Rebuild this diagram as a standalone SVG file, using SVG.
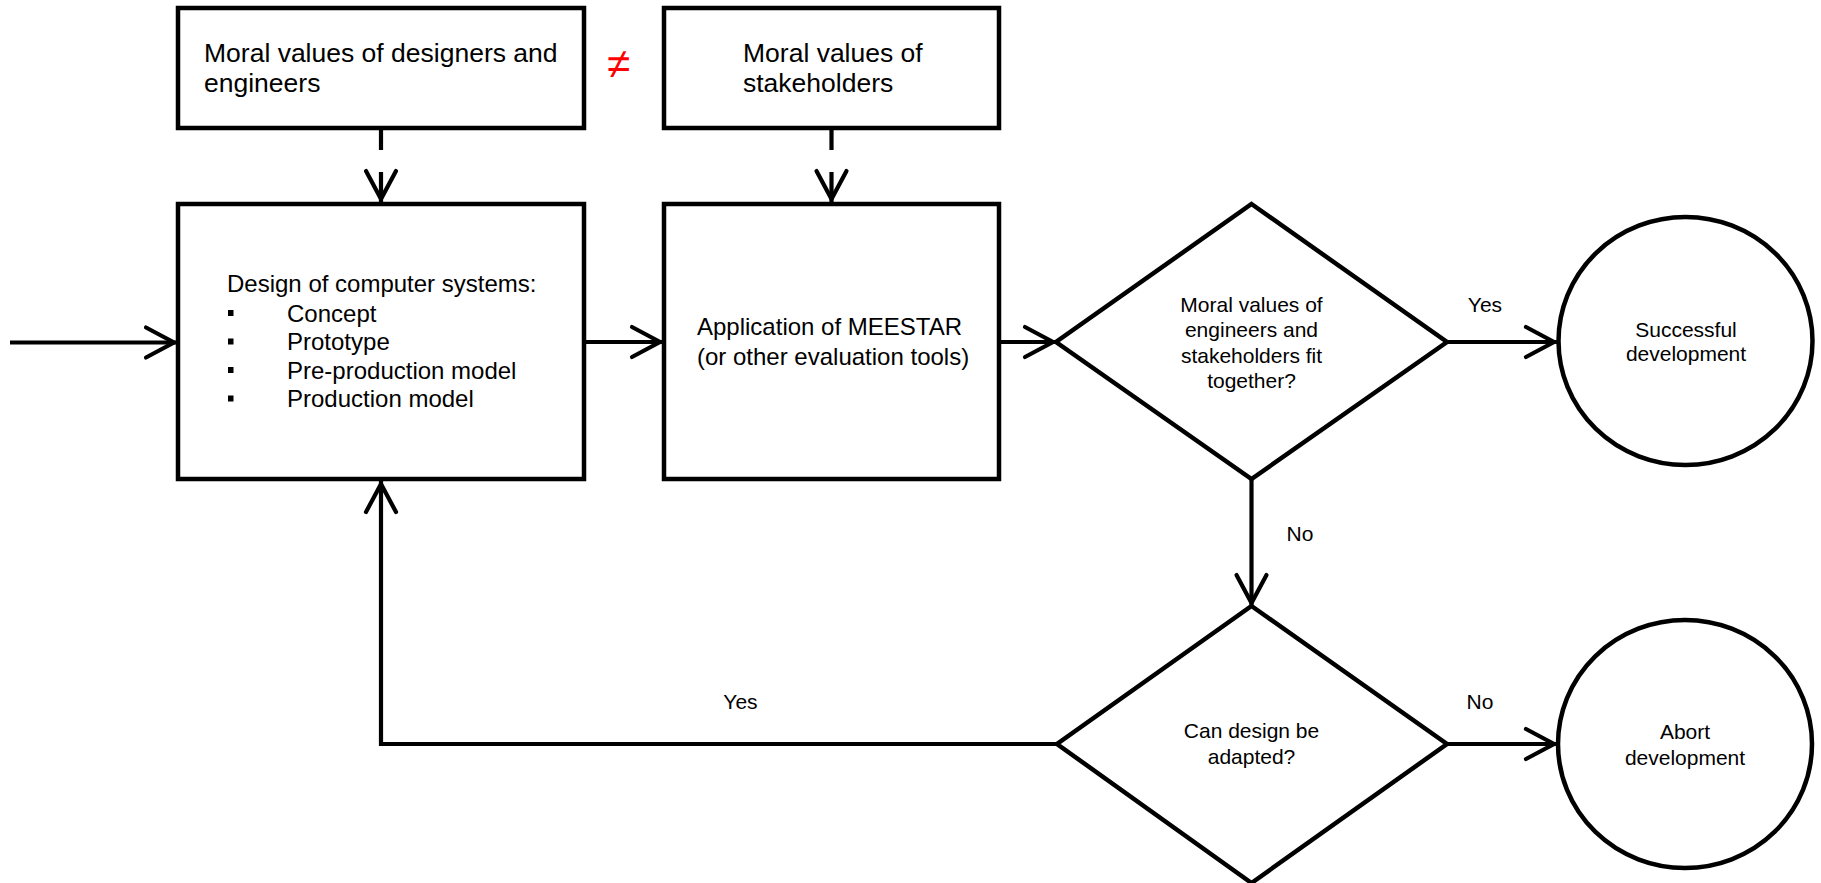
<svg xmlns="http://www.w3.org/2000/svg" width="1821" height="883" viewBox="0 0 1821 883">
  <defs>
    <style>
      .shape { fill: #ffffff; stroke: #000000; stroke-width: 4.5; stroke-linejoin: miter; }
      .conn { fill: none; stroke: #000000; stroke-width: 4.2; }
      .dash { stroke-dasharray: 20 22 60 0; }
      .t { font-family: "Liberation Sans", Arial, sans-serif; fill: #000000; }
      .big { font-size: 26.5px; }
      .mid { font-size: 24px; }
      .sm { font-size: 21px; }
      .c { text-anchor: middle; }
      .neq { font-family: "Liberation Sans", "DejaVu Sans", sans-serif; font-size: 42px; fill: #ff0000; text-anchor: middle; }
    </style>
    <marker id="arr" markerUnits="userSpaceOnUse" markerWidth="40" markerHeight="40" viewBox="-36 -20 40 40" refX="0" refY="0" orient="auto" overflow="visible">
      <path d="M-31,-15 L-3,0 L-31,15" fill="none" stroke="#000000" stroke-width="4.2" stroke-linecap="round" stroke-linejoin="miter"/>
    </marker>
  </defs>
  <rect width="1821" height="883" fill="#ffffff"/>

  <g id="connectors">
    <path class="conn dash" d="M381,130 V202" marker-end="url(#arr)"/>
    <path class="conn dash" d="M831.5,130 V202" marker-end="url(#arr)"/>
    <path class="conn" d="M10,342.5 H177" marker-end="url(#arr)"/>
    <path class="conn" d="M586,342 H663" marker-end="url(#arr)"/>
    <path class="conn" d="M1001,342 H1056" marker-end="url(#arr)"/>
    <path class="conn" d="M1447,342 H1557" marker-end="url(#arr)"/>
    <path class="conn" d="M1251.5,479 V606" marker-end="url(#arr)"/>
    <path class="conn" d="M1057,744 H381 V481" marker-end="url(#arr)"/>
    <path class="conn" d="M1447,744 H1557" marker-end="url(#arr)"/>
    <text class="t sm c" x="1485" y="312">Yes</text>
    <text class="t sm c" x="1300" y="541">No</text>
    <text class="t sm c" x="1480" y="708.5">No</text>
    <text class="t sm c" x="740.5" y="708.5">Yes</text>
  </g>

  <g id="designers-values">
    <rect class="shape" x="178" y="8" width="406" height="120"/>
    <text class="t big" x="204" y="62">Moral values of designers and</text>
    <text class="t big" x="204" y="92">engineers</text>
  </g>

  <g id="not-equal">
    <text class="neq" x="618.5" y="78">≠</text>
  </g>

  <g id="stakeholders-values">
    <rect class="shape" x="664" y="8" width="335" height="120"/>
    <text class="t big" x="743" y="62">Moral values of</text>
    <text class="t big" x="743" y="92">stakeholders</text>
  </g>

  <g id="design">
    <rect class="shape" x="178" y="204" width="406" height="275"/>
    <text class="t mid" x="227" y="292">Design of computer systems:</text>
    <rect x="228" y="310" width="5.5" height="6" fill="#000000"/>
    <rect x="228" y="338.5" width="5.5" height="6" fill="#000000"/>
    <rect x="228" y="367" width="5.5" height="6" fill="#000000"/>
    <rect x="228" y="395.5" width="5.5" height="6" fill="#000000"/>
    <text class="t mid" x="287" y="321.5">Concept</text>
    <text class="t mid" x="287" y="350">Prototype</text>
    <text class="t mid" x="287" y="378.5">Pre-production model</text>
    <text class="t mid" x="287" y="407">Production model</text>
  </g>

  <g id="meestar">
    <rect class="shape" x="664" y="204" width="335" height="275"/>
    <text class="t mid" x="697" y="335">Application of MEESTAR</text>
    <text class="t mid" x="697" y="365">(or other evaluation tools)</text>
  </g>

  <g id="decision-fit">
    <polygon class="shape" points="1251.5,204 1447,342 1251.5,479 1056,342"/>
    <text class="t sm c" x="1251.5" y="311.5">Moral values of</text>
    <text class="t sm c" x="1251.5" y="337">engineers and</text>
    <text class="t sm c" x="1251.5" y="362.5">stakeholders fit</text>
    <text class="t sm c" x="1251.5" y="388">together?</text>
  </g>

  <g id="success">
    <ellipse class="shape" cx="1685.5" cy="341" rx="127" ry="124"/>
    <text class="t sm c" x="1686" y="336.5">Successful</text>
    <text class="t sm c" x="1686" y="360.5">development</text>
  </g>

  <g id="decision-adapt">
    <polygon class="shape" points="1251.5,606 1447,744 1251.5,883 1057,744"/>
    <text class="t sm c" x="1251.5" y="738">Can design be</text>
    <text class="t sm c" x="1251.5" y="764">adapted?</text>
  </g>

  <g id="abort">
    <ellipse class="shape" cx="1685" cy="744" rx="127" ry="124"/>
    <text class="t sm c" x="1685" y="739">Abort</text>
    <text class="t sm c" x="1685" y="764.5">development</text>
  </g>
</svg>
